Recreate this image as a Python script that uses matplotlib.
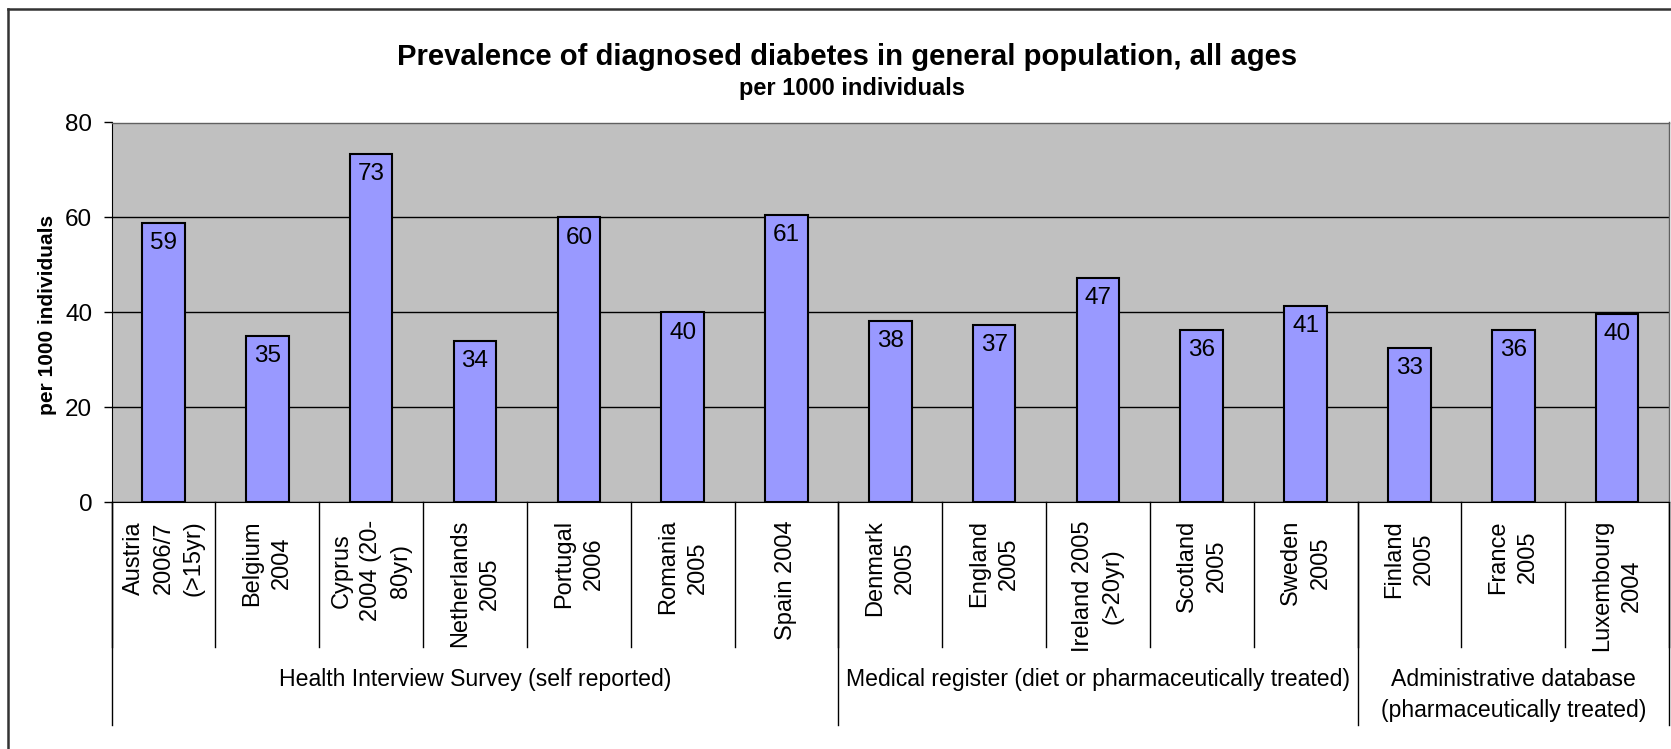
import matplotlib
matplotlib.use("Agg")
import matplotlib.pyplot as plt
from matplotlib.lines import Line2D
import numpy as np

# ---------------- data ----------------
categories = [
    "Austria\n2006/7\n(>15yr)", "Belgium\n2004", "Cyprus\n2004 (20-\n80yr)",
    "Netherlands\n2005", "Portugal\n2006", "Romania\n2005", "Spain 2004",
    "Denmark\n2005", "England\n2005", "Ireland 2005\n(>20yr)", "Scotland\n2005",
    "Sweden\n2005", "Finland\n2005", "France\n2005", "Luxembourg\n2004",
]
values = [58.9, 35.1, 73.4, 33.9, 60.0, 40.0, 60.6,
          38.2, 37.3, 47.3, 36.3, 41.3, 32.6, 36.3, 39.7]
groups = ["Health Interview Survey (self reported)",
          "Medical register (diet or pharmaceutically treated)",
          "Administrative database\n(pharmaceutically treated)"]
group_sizes = [7, 5, 3]
y_ticks = [0, 20, 40, 60, 80]
title = "Prevalence of diagnosed diabetes in general population, all ages"
subtitle = "per 1000 individuals"
y_label = "per 1000 individuals"

# ---------------- style ----------------
plt.rcParams['font.family'] = ['Liberation Sans', 'DejaVu Sans']
W, H = 1671, 749
fig = plt.figure(figsize=(W / 100, H / 100), dpi=100)
fig.patch.set_facecolor("white")

ax_left, ax_right, ax_top, ax_bot = 111.6, 1669.0, 122.5, 502.3
ax = fig.add_axes([ax_left / W, 1 - ax_bot / H, (ax_right - ax_left) / W, (ax_bot - ax_top) / H])
ax.set_facecolor("#C0C0C0")

def ay(ypix):
    """pixel row (from top) -> axes fraction"""
    return (ax_bot - ypix) / (ax_bot - ax_top)

x = np.arange(len(values))
ax.bar(x, values, width=0.41, color="#9999FF", edgecolor="black", linewidth=1.5, zorder=3)
ax.set_xlim(-0.5, len(values) - 0.5)
ax.set_ylim(0, 80)
ax.set_yticks(y_ticks)
ax.tick_params(axis='y', labelsize=17.5, length=6, width=1, pad=8, direction='out')
ax.set_xticks([])
ax.yaxis.grid(True, color="black", linewidth=1, zorder=1)
ax.set_axisbelow(True)
for s in ["top", "right"]:
    ax.spines[s].set_color("#606060")
    ax.spines[s].set_linewidth(1)
ax.spines["left"].set_color("black")
ax.spines["bottom"].set_color("black")

# data labels
for xi, v in zip(x, values):
    ax.annotate(str(int(np.floor(v + 0.5))), (xi, v), xytext=(0, -14.5), textcoords="offset points",
                ha="center", va="center", fontsize=17.5, zorder=4)

# category labels
tr = ax.get_xaxis_transform()
for xi, lab in zip(x, categories):
    ax.text(xi, ay(520), lab, rotation=90, ha="center", va="top", multialignment="center",
            fontsize=17, transform=tr, linespacing=1.45)

# category separators
for i in range(len(values) + 1):
    b = i - 0.5
    ax.add_line(Line2D([b, b], [0, ay(647)], transform=tr, color="black", lw=1, clip_on=False))

# group separators and labels
start = 0
bounds = [-0.5]
for g, n in zip(groups, group_sizes):
    end = start + n
    bounds.append(end - 0.5)
    cx = (start + end - 1) / 2
    ax.text(cx, ay(668), g, ha="center", va="top", fontsize=16.6, transform=tr,
            multialignment="center", linespacing=1.45)
    start = end
for b in bounds:
    ax.add_line(Line2D([b, b], [0, ay(725)], transform=tr, color="black", lw=1, clip_on=False))

# titles
fig.text(847 / W, 1 - 57 / H, title, ha="center", va="center", fontsize=21.1, fontweight="bold")
fig.text(852 / W, 1 - 88 / H, subtitle, ha="center", va="center", fontsize=17, fontweight="bold")
fig.text(48 / W, 1 - 315 / H, y_label, ha="center", va="center", rotation=90,
         fontsize=15, fontweight="bold")

# outer chart frame (cropped at right and bottom)
fig.add_artist(Line2D([8 / W, 8 / W], [0, 1 - 9 / H], transform=fig.transFigure, color="#333333", lw=1.8))
fig.add_artist(Line2D([8 / W, 1], [1 - 9 / H, 1 - 9 / H], transform=fig.transFigure, color="#333333", lw=1.8))

fig.savefig("out.png", dpi=100)
